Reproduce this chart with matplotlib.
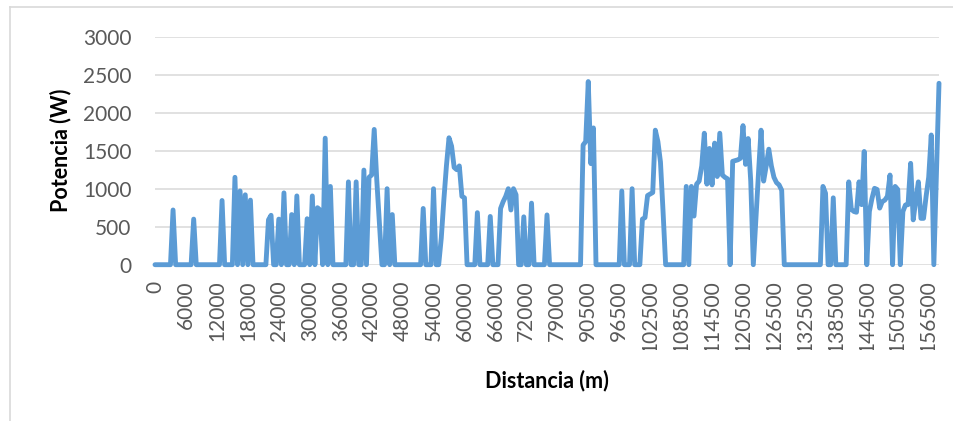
import numpy as np
import matplotlib
matplotlib.use("Agg")
import matplotlib.pyplot as plt
from matplotlib.lines import Line2D
from matplotlib.transforms import Bbox, offset_copy

# Distance categories (m), one per sample
distancia = (list(range(0, 72001, 500))
             + [72500, 73000, 73500, 74000, 74500, 75000, 75500, 76000, 76500, 77000, 78000]
             + [79000, 80000, 81000, 82000, 83000, 84000, 85000, 86000, 87000, 88000, 89000, 90000]
             + list(range(90500, 158501, 500)))

# Power output (W) at each distance sample
potencia = [
    0, 0, 0, 0, 0, 0, 0, 720, 0, 0, 0, 0, 0, 0, 0, 600, 0, 0, 0, 0,
    0, 0, 0, 0, 0, 0, 845, 0, 0, 0, 0, 1150, 0, 970, 0, 920, 0, 850, 0, 0,
    0, 0, 0, 0, 590, 650, 0, 0, 600, 0, 945, 0, 0, 660, 0, 905, 0, 0, 0, 605,
    0, 905, 0, 750, 720, 0, 1665, 0, 1030, 0, 0, 0, 0, 0, 0, 1090, 0, 0, 1090, 0,
    0, 1245, 0, 1150, 1180, 1780, 1110, 550, 0, 0, 1000, 0, 660, 0, 0, 0, 0, 0, 0, 0,
    0, 0, 0, 0, 740, 0, 0, 0, 1000, 0, 0, 350, 850, 1300, 1670, 1560, 1280, 1250, 1300, 900,
    880, 0, 0, 0, 0, 685, 0, 0, 0, 0, 635, 0, 0, 0, 740, 830, 900, 1000, 720, 1000,
    920, 0, 0, 630, 0, 0, 810, 0, 0, 0, 0, 0, 655, 0, 0, 0, 0, 0, 0, 0,
    0, 0, 0, 0, 0, 0, 1575, 1620, 2410, 1330, 1800, 0, 0, 0, 0, 0, 0, 0, 0, 0,
    0, 970, 0, 0, 0, 1000, 0, 0, 0, 600, 620, 910, 930, 950, 1770, 1620, 1350, 700, 0, 0,
    0, 0, 0, 0, 0, 0, 1030, 0, 1030, 640, 1060, 1100, 1300, 1730, 1060, 1530, 1050, 1600, 1160, 1730,
    1180, 1150, 1130, 0, 1360, 1370, 1380, 1400, 1830, 1320, 1660, 1100, 0, 600, 1200, 1770, 1100, 1300, 1520, 1300,
    1150, 1080, 1050, 980, 0, 0, 0, 0, 0, 0, 0, 0, 0, 0, 0, 0, 0, 0, 0, 1030,
    940, 0, 0, 880, 0, 0, 0, 0, 0, 1090, 730, 700, 690, 1090, 790, 1490, 0, 700, 870, 1005,
    990, 745, 830, 850, 900, 1180, 0, 1030, 990, 0, 700, 786, 790, 1334, 590, 850, 1090, 610, 610, 900,
    1150, 1707, 0, 1200, 2387,
]

y_ticks = [0, 500, 1000, 1500, 2000, 2500, 3000]
label_every = 12

W, H = 954, 421
FONT = "Lato"
TICK_COLOR = "#595959"
LINE_COLOR = "#5B9BD5"
GRID_COLOR = "#D9D9D9"

fig = plt.figure(figsize=(W / 100, H / 100), dpi=100)
fig.patch.set_facecolor("white")

# chart-area frame (left and top edges visible)
fig.add_artist(Line2D([10 / W, 10 / W], [0, 1 - 7 / H], color=GRID_COLOR, lw=1.2))
fig.add_artist(Line2D([10 / W, 1], [1 - 7 / H, 1 - 7 / H], color=GRID_COLOR, lw=1.2))

ax = fig.add_axes([155 / W, (H - 264.7) / H, (939 - 155) / W, (264.7 - 36.7) / H])
idx = np.arange(len(potencia))
ax.plot(idx, potencia, color=LINE_COLOR, lw=3.5, solid_joinstyle="round",
        solid_capstyle="round", zorder=3, clip_on=False)

ax.set_xlim(0, len(potencia) - 1)
ax.set_ylim(y_ticks[0], y_ticks[-1])
ax.set_yticks(y_ticks)
ax.set_yticklabels([str(v) for v in y_ticks], fontfamily=FONT, fontsize=15, color=TICK_COLOR)
ax.grid(axis="y", color=GRID_COLOR, lw=1.1)
ax.set_axisbelow(True)
for s in ax.spines.values():
    s.set_visible(False)
ax.tick_params(axis="both", length=0)
ax.tick_params(axis="y", pad=17)
ax.set_xticks([])

# rotated category labels, cut off at the bottom of the label band
label_tr = offset_copy(ax.get_xaxis_transform(), fig=fig, y=-16, units="dots")
clip = Bbox.from_extents(0, H - 350, W, H)
for i in idx[::label_every]:
    t = fig.text(i, 0, str(distancia[i]), transform=label_tr, rotation=90,
                 ha="center", va="top", fontfamily=FONT, fontsize=15, color=TICK_COLOR)
    t.set_clip_on(True)
    t.set_clip_box(clip)

fig.text(61 / W, 1 - 150 / H, "Potencia (W)", rotation=90, ha="center", va="center",
         fontfamily=FONT, fontweight="bold", fontsize=15.5, color="black")
fig.text(547 / W, 1 - 381 / H, "Distancia (m)", ha="center", va="center",
         fontfamily=FONT, fontweight="bold", fontsize=15.5, color="black")

fig.savefig("out.png", dpi=100, facecolor="white")
